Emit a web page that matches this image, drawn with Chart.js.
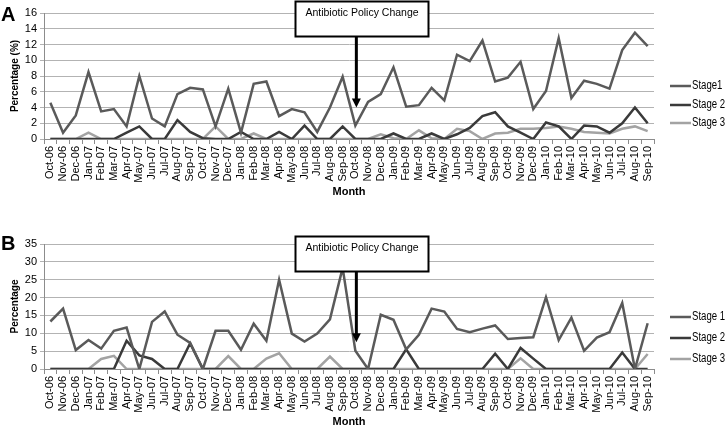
<!DOCTYPE html>
<html>
<head>
<meta charset="utf-8">
<script src="https://cdn.jsdelivr.net/npm/chart.js@4.4.0/dist/chart.umd.min.js"></script>
<style>
    html, body { margin: 0; padding: 0; background: #fff; }
    #wrapA { position: absolute; left: 0; top: 0; width: 727px; height: 215px; }
    #wrapB { position: absolute; left: 0; top: 215px; width: 727px; height: 214px; }
</style>
</head>
<body>
<div id="wrapA"><canvas id="chartA"></canvas></div>
<div id="wrapB"><canvas id="chartB"></canvas></div>
<script>
const months = ['Oct-06','Nov-06','Dec-06','Jan-07','Feb-07','Mar-07','Apr-07','May-07','Jun-07','Jul-07','Aug-07','Sep-07',
    'Oct-07','Nov-07','Dec-07','Jan-08','Feb-08','Mar-08','Apr-08','May-08','Jun-08','Jul-08','Aug-08','Sep-08',
    'Oct-08','Nov-08','Dec-08','Jan-09','Feb-09','Mar-09','Apr-09','May-09','Jun-09','Jul-09','Aug-09','Sep-09',
    'Oct-09','Nov-09','Dec-09','Jan-10','Feb-10','Mar-10','Apr-10','May-10','Jun-10','Jul-10','Aug-10','Sep-10'];

/* Panel A - percentage (%) */
const stage1A = [4.6,0.8,3.0,8.5,3.5,3.8,1.6,8.0,2.6,1.6,5.7,6.5,6.3,1.6,6.4,0.8,7.0,7.3,2.9,3.8,3.4,0.9,4.0,7.9,
    1.7,4.7,5.7,9.1,4.1,4.3,6.5,4.9,10.7,9.9,12.5,7.3,7.8,9.8,3.8,6.1,12.8,5.2,7.4,7.0,6.4,11.3,13.5,11.8];
const stage2A = [0,0,0,0,0,0,0.8,1.6,0,0,2.4,0.9,0.1,0,0,0.9,0,0,0.9,0,1.7,0,0,1.6,
    0,0,0,0.7,0,0,0.7,0,0.6,1.4,2.9,3.4,1.6,0.8,0,2.1,1.6,0,1.7,1.6,0.8,2.0,4.0,2.0];
const stage3A = [0,0,0,0.8,0,0,0,0,0,0,0,0,0,1.6,0,0,0.7,0,0,0,0,0,0,0,
    0,0,0.6,0.1,0,1.1,0.1,0,1.3,1.0,0,0.7,0.8,1.3,1.3,1.4,1.6,1.3,0.9,0.8,0.7,1.3,1.6,1.0];

/* Panel B - percentage */
const stage1B = [13.3,16.9,5.3,8.1,5.7,10.7,11.6,0,13.2,16.1,9.6,7.3,0,10.7,10.7,5.4,12.7,7.9,25.0,9.9,7.7,9.9,13.9,28.3,
    5.1,0,15.2,13.8,5.5,9.6,16.9,16.1,11.2,10.3,11.3,12.2,8.4,8.7,8.9,20.1,8.1,14.4,5.1,8.8,10.3,18.5,0,12.8];
const stage2B = [0,0,0,0,0,0,7.9,3.8,2.8,0,0,7.2,0,0,0,0,0,0,0,0,0,0,0,0,
    0,0,0,0,5.5,0,0,0,0,0,0,4.3,0,5.9,2.9,0,0,0,0,0,0,4.6,0,0];
const stage3B = [0,0,0,0,2.8,3.7,0,0,0,0,0,0,0,0,3.6,0,0,2.9,4.4,0,0,0,3.5,0,
    0,0,0,0,0,0,0,0,0,0,0,0,0,3.0,0,0,0,0,0,0,0,0,0,4.2];

const policyMonth = 'Oct-08';
const seriesColors = ['#5a5a5a', '#3a3a3a', '#a3a3a3'];
const sans = '"Liberation Sans", Arial, sans-serif';

const panelDecor = {
    id: 'panelDecor',
    afterDraw(chart, args, opts) {
        const ctx = chart.ctx;
        const xs = chart.scales.x, ys = chart.scales.y;
        ctx.save();

        // panel letter
        ctx.fillStyle = '#000';
        ctx.font = 'bold 20px ' + sans;
        ctx.textAlign = 'left';
        ctx.textBaseline = 'middle';
        ctx.fillText(opts.letter, 1, opts.letterY);

        // policy change box + arrow
        const ax = xs.getPixelForValue(months.indexOf(policyMonth)) + 1;
        const tipY = ys.getPixelForValue(opts.arrowTo);
        const bx = 295.5, bw = 133, by = opts.boxTop, bh = 35;
        ctx.fillStyle = '#fff';
        ctx.fillRect(bx, by, bw, bh);
        ctx.lineWidth = 2;
        ctx.strokeStyle = '#000';
        ctx.strokeRect(bx, by, bw, bh);
        ctx.fillStyle = '#000';
        ctx.font = '10.5px ' + sans;
        ctx.textAlign = 'center';
        ctx.fillText('Antibiotic Policy Change', bx + bw / 2, by + 12);
        ctx.lineWidth = 3;
        ctx.beginPath();
        ctx.moveTo(ax, by + bh);
        ctx.lineTo(ax, tipY - 7);
        ctx.stroke();
        ctx.beginPath();
        ctx.moveTo(ax - 4.5, tipY - 9);
        ctx.lineTo(ax + 4.5, tipY - 9);
        ctx.lineTo(ax, tipY);
        ctx.closePath();
        ctx.fill();

        // legend (narrow text like the original)
        ctx.textAlign = 'left';
        ctx.font = '12px ' + sans;
        chart.data.datasets.forEach((ds, i) => {
            const ly = opts.legendY[i];
            ctx.strokeStyle = ds.borderColor;
            ctx.lineWidth = 2.5;
            ctx.beginPath();
            ctx.moveTo(670, ly);
            ctx.lineTo(691, ly);
            ctx.stroke();
            ctx.save();
            ctx.translate(692, ly);
            ctx.scale(0.8, 1);
            ctx.fillStyle = '#000';
            ctx.fillText(ds.label, 0, 0);
            ctx.restore();
        });
        ctx.restore();
    }
};

function makePanel(canvasId, labels, data, yMax, yStep, yTitle, pad, decor) {
    return new Chart(document.getElementById(canvasId), {
        type: 'line',
        data: {
            labels: months,
            datasets: data.map((d, i) => ({
                label: labels[i],
                data: d,
                borderColor: seriesColors[i],
                backgroundColor: seriesColors[i],
                borderWidth: 2.5,
                pointRadius: 0,
                tension: 0,
                fill: false
            }))
        },
        options: {
            responsive: true,
            maintainAspectRatio: false,
            animation: false,
            layout: { padding: { left: 0, right: 73, top: pad.top, bottom: pad.bottom } },
            plugins: {
                legend: { display: false },
                tooltip: { enabled: false },
                panelDecor: decor
            },
            scales: {
                x: {
                    offset: true,
                    grid: { display: true, drawOnChartArea: false, drawTicks: true, tickLength: 5, color: '#8c8c8c', offset: true },
                    border: { display: true, color: '#8c8c8c' },
                    ticks: { autoSkip: false, maxRotation: 90, minRotation: 90, padding: 2, color: '#000', font: { family: sans, size: 11 } },
                    title: { display: true, text: 'Month', color: '#000', font: { family: sans, size: 11, weight: 'bold' }, padding: { top: 0, bottom: 0 } },
                    afterFit: (scale) => { scale.height = 60; }
                },
                y: {
                    min: 0,
                    max: yMax,
                    ticks: { stepSize: yStep, autoSkip: false, padding: 3, color: '#000', font: { family: sans, size: 11 } },
                    grid: { color: '#b3b3b3', lineWidth: 1, tickLength: 4 },
                    border: { display: true, color: '#8c8c8c' },
                    title: { display: true, text: yTitle, color: '#000', font: { family: sans, size: 10, weight: 'bold' }, padding: { top: 9, bottom: 0 } },
                    afterFit: (scale) => { scale.width = 44; }
                }
            }
        },
        plugins: [panelDecor]
    });
}

makePanel('chartA', ['Stage1', 'Stage 2', 'Stage 3'], [stage1A, stage2A, stage3A], 16, 2, 'Percentage (%)',
    { top: 13, bottom: 16 },
    { letter: 'A', letterY: 15, boxTop: 1.5, arrowTo: 4, legendY: [86, 105, 123] });

makePanel('chartB', ['Stage 1', 'Stage 2', 'Stage 3'], [stage1B, stage2B, stage3B], 35, 5, 'Percentage',
    { top: 29, bottom: 0 },
    { letter: 'B', letterY: 29, boxTop: 21.5, arrowTo: 7.5, legendY: [102, 123, 144] });
</script>
</body>
</html>
